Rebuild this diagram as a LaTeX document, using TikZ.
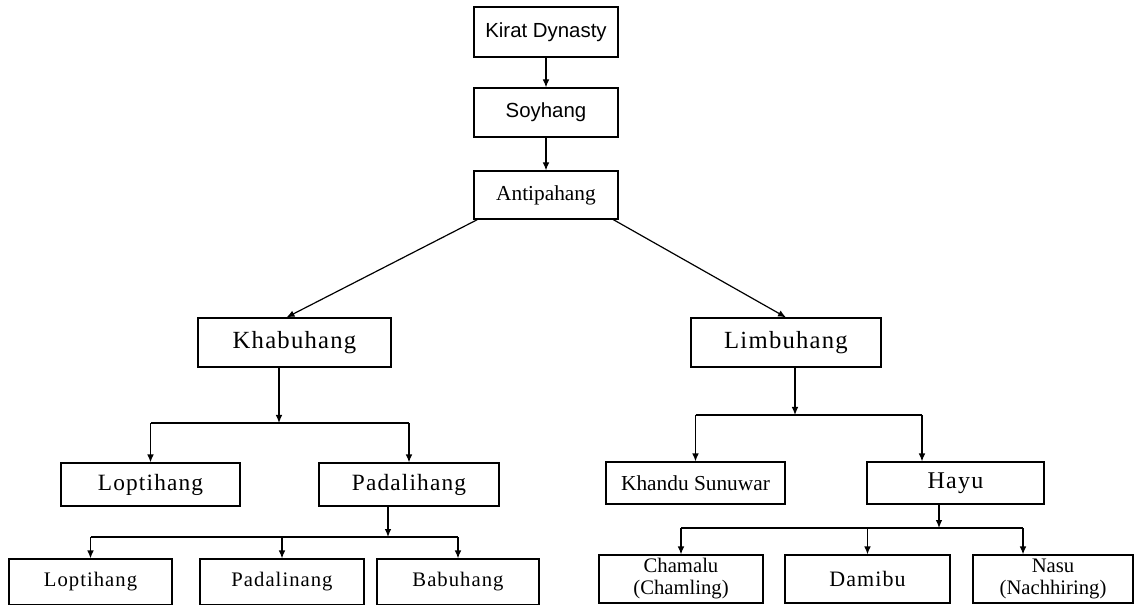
\documentclass[tikz,border=0pt]{standalone}
\usepackage{fontspec}
\setmainfont{Liberation Serif}
\newfontfamily\labelsans{Liberation Sans}
\newfontfamily\labelserif[LetterSpace=5]{Liberation Serif}
\usetikzlibrary{arrows.meta, positioning, calc}

\begin{document}
\begin{tikzpicture}[
  x=0.75pt, y=-0.75pt,
  every node/.style={font=\labelserif\fontsize{17.5}{19}\selectfont},
  box/.style={rectangle, draw, line width=0.9pt, inner sep=0pt, align=center},
  arr/.style={line width=0.9pt, -{Latex[length=6pt, width=5pt]}},
  link/.style={line width=0.9pt},
]
  \useasboundingbox (0,0) rectangle (1134,605);

  % top of the tree
  \node[box, minimum width=108pt, minimum height=37.5pt,
        font=\labelsans\fontsize{15.3}{17}\selectfont] (kirat) at (546,32) {Kirat Dynasty};
  \node[box, minimum width=108pt, minimum height=36.75pt,
        font=\labelsans\fontsize{15.3}{17}\selectfont] (soyhang) at (546,112.5) {Soyhang};
  \node[box, minimum width=108pt, minimum height=36pt,
        font=\rmfamily\fontsize{16}{18}\selectfont] (antipa) at (546,195) {Antipahang};

  \node[box, minimum width=144.75pt, minimum height=36.75pt,
        font=\labelserif\fontsize{18.5}{20}\selectfont] (khabu) at (294.5,342.5) {Khabuhang};
  \node[box, minimum width=142.5pt, minimum height=36.75pt,
        font=\labelserif\fontsize{18.5}{20}\selectfont] (limbu) at (786,342.5) {Limbuhang};

  \node[box, minimum width=134.25pt, minimum height=32.25pt] (lopti) at (150.5,484.5) {Loptihang};
  \node[box, minimum width=135pt, minimum height=32.25pt] (padali) at (409,484.5) {Padalihang};
  \node[box, minimum width=134.25pt, minimum height=31.5pt,
        font=\rmfamily\fontsize{16}{18}\selectfont] (khandu) at (695.5,483) {Khandu Sunuwar};
  \node[box, minimum width=132.75pt, minimum height=31.5pt,
        font=\labelserif\fontsize{18}{20}\selectfont] (hayu) at (955.5,483) {Hayu};

  \node[box, minimum width=122.25pt, minimum height=34.5pt,
        font=\labelserif\fontsize{15.5}{17}\selectfont] (loptib) at (90.5,582) {Loptihang};
  \node[box, minimum width=123pt, minimum height=34.5pt,
        font=\labelserif\fontsize{15.5}{17}\selectfont] (padalin) at (282,582) {Padalinang};
  \node[box, minimum width=121.5pt, minimum height=34.5pt,
        font=\labelserif\fontsize{15.5}{17}\selectfont] (babu) at (458,582) {Babuhang};

  \node[box, minimum width=123pt, minimum height=36pt,
        font=\rmfamily\fontsize{15.5}{16.5}\selectfont] (chamalu) at (681,579) {Chamalu\\(Chamling)};
  \node[box, minimum width=123.75pt, minimum height=36pt,
        font=\labelserif\fontsize{16.5}{18}\selectfont] (damibu) at (867.5,579) {Damibu};
  \node[box, minimum width=120pt, minimum height=36pt,
        font=\rmfamily\fontsize{15.5}{16.5}\selectfont] (nasu) at (1053,579) {Nasu\\(Nachhiring)};

  % junctions of the branch lines
  \coordinate (kbar) at (279,423);
  \coordinate (lbar) at (795,415);
  \coordinate (pbar) at (388,537);
  \coordinate (hbar) at (939,528);
  \coordinate (hdrop) at (922,415);
  \coordinate (ndrop) at (1023,528);

  \draw[arr] (kirat) -- (soyhang);
  \draw[arr] (soyhang) -- (antipa);
  \draw[arr] ([xshift=3pt]antipa.south west) -- ([xshift=-6pt]khabu.north);
  \draw[arr] ([xshift=-4pt]antipa.south east) -- (limbu.north);

  \draw[arr] (khabu.south -| kbar) -- (kbar);
  \draw[link] (kbar -| lopti.north) -- (kbar -| padali.north);
  \draw[arr] (kbar -| lopti.north) -- (lopti.north);
  \draw[arr] (kbar -| padali.north) -- (padali.north);

  \draw[arr] (limbu.south -| lbar) -- (lbar);
  \draw[link] (lbar -| khandu.north) -- (hdrop);
  \draw[arr] (lbar -| khandu.north) -- (khandu.north);
  \draw[arr] (hdrop) -- (hdrop |- hayu.north);

  \draw[arr] (padali.south -| pbar) -- (pbar);
  \draw[link] (pbar -| loptib.north) -- (pbar -| babu.north);
  \draw[arr] (pbar -| loptib.north) -- (loptib.north);
  \draw[arr] (pbar -| padalin.north) -- (padalin.north);
  \draw[arr] (pbar -| babu.north) -- (babu.north);

  \draw[arr] (hayu.south -| hbar) -- (hbar);
  \draw[link] (hbar -| chamalu.north) -- (ndrop);
  \draw[arr] (hbar -| chamalu.north) -- (chamalu.north);
  \draw[arr] (hbar -| damibu.north) -- (damibu.north);
  \draw[arr] (ndrop) -- (ndrop |- nasu.north);
\end{tikzpicture}
\end{document}
